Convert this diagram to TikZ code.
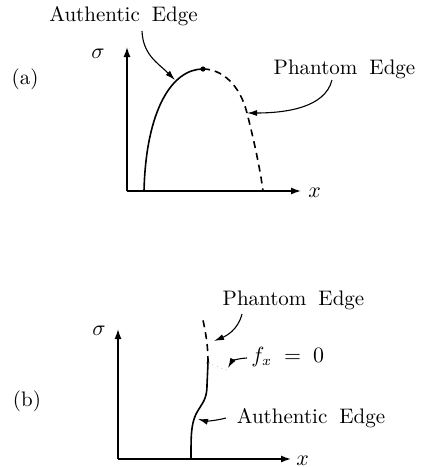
\documentclass[tikz,border=0pt]{standalone}
\usetikzlibrary{arrows.meta}
\newcommand\mylblfont{\fontsize{10.5pt}{12pt}\selectfont\spaceskip=6pt plus 1pt\relax}
\tikzset{
  lbl/.style={font=\mylblfont, inner sep=0pt},
  axis/.style={line width=0.7pt, -{Latex[length=5pt,width=3.5pt]}},
  solidcurve/.style={line width=0.8pt},
  dashcurve/.style={line width=0.8pt, dash pattern=on 3.5pt off 2.5pt},
  pointer/.style={line width=0.55pt, -{Latex[length=5pt,width=3pt]}},
}
\begin{document}
\begin{tikzpicture}[x=0.5pt, y=-0.5pt]
\useasboundingbox (0,0) rectangle (420,467);
% ---------- panel (a) ----------
\coordinate (Oa) at (127,191);
\coordinate (Ya) at (127,47);
\coordinate (Xa) at (301,191);
\draw[axis] (Oa) -- (Ya);
\draw[axis] (Oa) -- (Xa);
\node[lbl] (sa) at (98,54) {$\sigma$};
\node[lbl, anchor=west] (xa) at (308,193) {$x$};
\node[lbl] (la) at (25,79) {(a)};
\node[lbl, anchor=base] (authA) at (123.5,21) {Authentic Edge};
\node[lbl, anchor=base] (phanA) at (344.5,74) {Phantom Edge};
\coordinate (startA) at (144,191);
\coordinate (peak) at (203,69);
\coordinate (midA) at (247,113);
\coordinate (endA) at (263,191);
\draw[solidcurve] (startA) .. controls (146,110) and (172,69) .. (peak);
\draw[dashcurve] (peak) .. controls (222,69) and (240,85) .. (midA)
                 .. controls (249,121) and (259,160) .. (endA);
\fill (peak) circle (1.3pt);
\coordinate (aaS) at (142,31);
\coordinate (aaT) at (175,80);
\draw[pointer] (aaS) .. controls (143,55) and (158,63) .. (aaT);
\coordinate (paS) at (332,80);
\draw[pointer] (paS) .. controls (325,108) and (285,113) .. (midA);
% ---------- panel (b) ----------
\coordinate (Ob) at (118,459);
\coordinate (Yb) at (118,329);
\coordinate (Xb) at (291,459);
\draw[axis] (Ob) -- (Yb);
\draw[axis] (Ob) -- (Xb);
\node[lbl] (sb) at (99,331) {$\sigma$};
\node[lbl, anchor=west] (xb) at (296,461) {$x$};
\node[lbl] (lb) at (27,401) {(b)};
\node[lbl, anchor=base] (phanB) at (293.5,305) {Phantom Edge};
\node[lbl, anchor=base west] (fx) at (251,362) {$f_x$\hspace{6pt}$=$\hspace{6pt}$0$};
\node[lbl, anchor=base] (authB) at (311,423) {Authentic Edge};
\coordinate (baseB) at (191,459);
\coordinate (sB) at (196,414);
\coordinate (bendB) at (207,385);
\coordinate (dotB) at (208,363);
\coordinate (topB) at (203,320);
\draw[solidcurve] (baseB) .. controls (191,435) and (191,425) .. (sB)
                  .. controls (202,403) and (207,400) .. (bendB) -- (dotB);
\draw[dashcurve] (dotB) .. controls (208,345) and (206,335) .. (topB);
\fill (dotB) circle (0.8pt);
\draw[gray!60, dotted, line width=0.4pt] (dotB) -- (229,371);
\coordinate (pbS) at (242,314);
\coordinate (pbT) at (214,341);
\draw[pointer] (pbS) .. controls (238,330) and (226,336) .. (pbT);
\coordinate (fxS) at (247,358);
\coordinate (fxT) at (228,368);
\draw[pointer] (fxS) .. controls (240,358) and (232,361) .. (fxT);
\coordinate (abS) at (226,418);
\coordinate (abT) at (198,419);
\draw[pointer] (abS) .. controls (215,421) and (205,421) .. (abT);
\end{tikzpicture}
\end{document}
